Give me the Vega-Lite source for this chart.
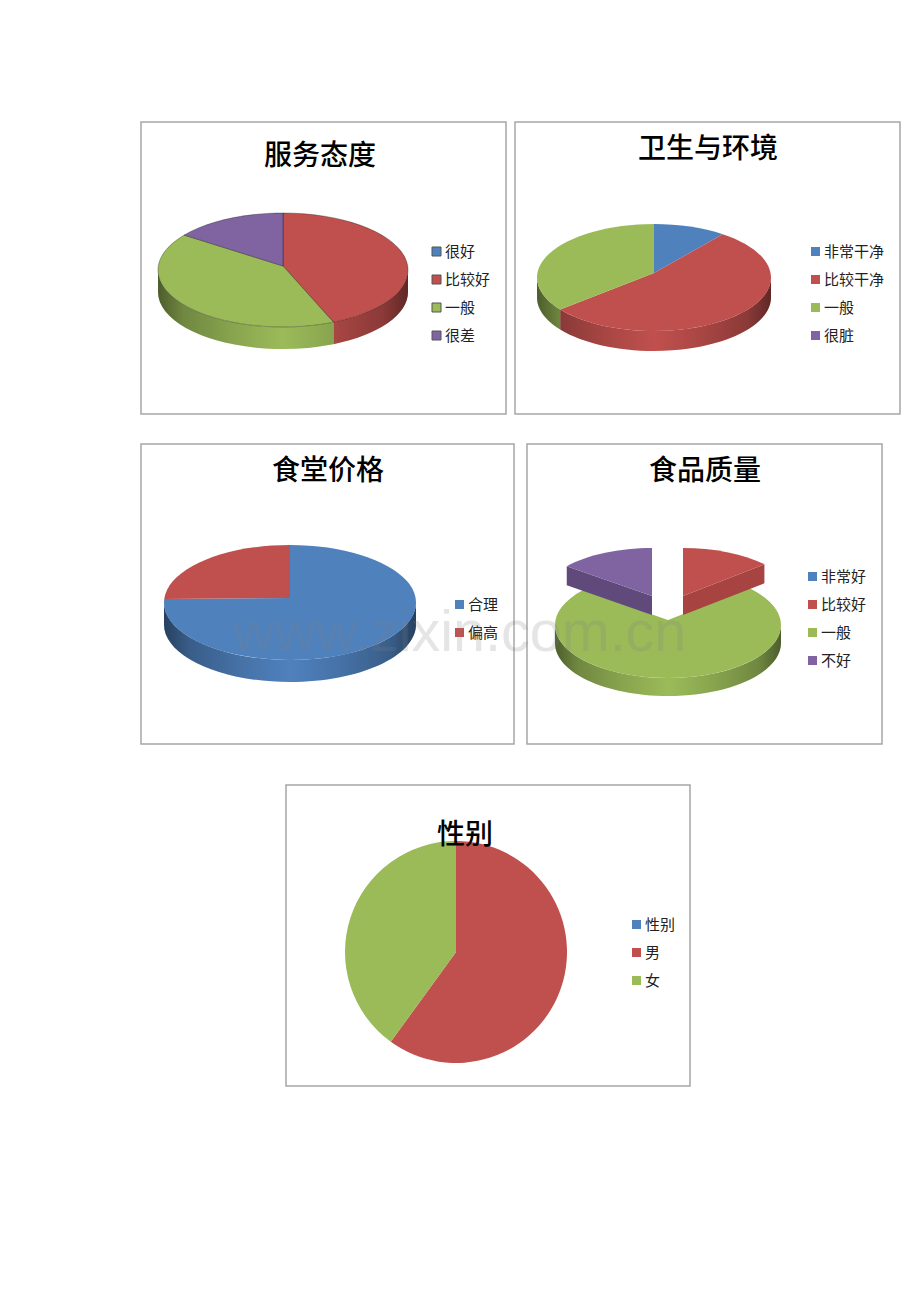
{"$schema":"https://vega.github.io/schema/vega-lite/v6.json","background":"#ffffff","padding":{"left":140,"top":121,"right":19,"bottom":215},"config":{"title":{"offset":0,"font":"Noto Sans CJK SC","fontSize":28,"fontWeight":500,"color":"#000000","anchor":"middle","baseline":"middle"},"legend":{"labelFont":"Noto Sans CJK SC","labelFontSize":15,"labelColor":"#222222","symbolType":"square","symbolSize":81,"labelOffset":1,"rowPadding":12,"symbolStrokeWidth":0}},"resolve":{"scale":{"color":"independent"}},"vconcat":[{"spacing":28,"resolve":{"scale":{"color":"independent"}},"vconcat":[{"spacing":9,"bounds":"flush","resolve":{"scale":{"color":"independent"}},"hconcat":[
{"width":365,"height":292,"view":{"stroke":"#a6a6a6","strokeWidth":1.5},"title":{"text":"服务态度","dx":-3.5,"dy":53},"data":{"values":[{"item":"很好","value":0},{"item":"比较好","value":43.4},{"item":"一般","value":42.1},{"item":"很差","value":14.5}]},"transform":[{"stack":"value","offset":"normalize","groupby":[],"as":["v0","v1"]},{"filter":"datum.value>0"}],"encoding":{"color":{"field":"item","type":"nominal","scale":{"domain":["很好","比较好","一般","很差"],"range":["#4f81bd","#c0504d","#9bbb59","#8064a2"]},"legend":{"title":null,"orient":"none","legendX":288,"legendY":122,"symbolStrokeColor":"#555555","symbolStrokeWidth":1}}},"layer":[
{"transform":[{"filter":"datum.v1>0.25 && datum.v0<0.75"}],"mark":{"type":"point","filled":true,"opacity":1,"size":4,"xOffset":-40.5,"yOffset":-2},"encoding":{"shape":{"value":{"expr":"'M'+(125*sin(max(2*PI*datum.v0,PI/2)))+','+(4-57*cos(max(2*PI*datum.v0,PI/2)))+'A125,57 0 0 1 '+(125*sin(min(2*PI*datum.v1,3*PI/2)))+','+(4-57*cos(min(2*PI*datum.v1,3*PI/2)))+'L'+(125*sin(min(2*PI*datum.v1,3*PI/2)))+','+(26-57*cos(min(2*PI*datum.v1,3*PI/2)))+'A125,57 0 0 0 '+(125*sin(max(2*PI*datum.v0,PI/2)))+','+(26-57*cos(max(2*PI*datum.v0,PI/2)))+'Z'"}}}},
{"transform":[{"filter":{"field":"item","equal":"很差"}}],"mark":{"type":"point","filled":true,"opacity":1,"size":4,"xOffset":-40.5,"yOffset":-2,"fill":{"gradient":"linear","x1":0,"y1":0,"x2":1,"y2":0,"stops":[{"offset":0,"color":"rgba(0,0,0,0.5)"},{"offset":0.1,"color":"rgba(0,0,0,0.28)"},{"offset":0.3,"color":"rgba(0,0,0,0.12)"},{"offset":0.5,"color":"rgba(0,0,0,0)"},{"offset":0.7,"color":"rgba(0,0,0,0.12)"},{"offset":0.9,"color":"rgba(0,0,0,0.28)"},{"offset":1,"color":"rgba(0,0,0,0.5)"}]}},"encoding":{"color":null,"shape":{"value":"M-125,4A125,57 0 0 0 125,4L125,26A125,57 0 0 1 -125,26Z"}}},
{"mark":{"type":"point","filled":true,"opacity":1,"size":4,"xOffset":-40.5,"yOffset":-2,"stroke":"#000000","strokeOpacity":0.3,"strokeWidth":1},"encoding":{"shape":{"value":{"expr":"'M0,0L'+(125*sin(2*PI*datum.v0))+','+(4-57*cos(2*PI*datum.v0))+'A125,57 0 '+(datum.v1-datum.v0>0.5?1:0)+' 1 '+(125*sin(2*PI*datum.v1))+','+(4-57*cos(2*PI*datum.v1))+'Z'"}}}}
]},
{"width":385,"height":292,"view":{"stroke":"#a6a6a6","strokeWidth":1.5},"title":{"text":"卫生与环境","dx":0.5,"dy":46},"data":{"values":[{"item":"非常干净","value":10},{"item":"比较干净","value":54.8},{"item":"一般","value":35.2},{"item":"很脏","value":0}]},"transform":[{"stack":"value","offset":"normalize","groupby":[],"as":["v0","v1"]},{"filter":"datum.value>0"}],"encoding":{"color":{"field":"item","type":"nominal","scale":{"domain":["非常干净","比较干净","一般","很脏"],"range":["#4f81bd","#c0504d","#9bbb59","#8064a2"]},"legend":{"title":null,"orient":"none","legendX":293,"legendY":122}}},"layer":[
{"transform":[{"filter":"datum.v1>0.25 && datum.v0<0.75"}],"mark":{"type":"point","filled":true,"opacity":1,"size":4,"xOffset":-53.5,"yOffset":5},"encoding":{"shape":{"value":{"expr":"'M'+(117*sin(max(2*PI*datum.v0,PI/2)))+','+(4.5-53.5*cos(max(2*PI*datum.v0,PI/2)))+'A117,53.5 0 0 1 '+(117*sin(min(2*PI*datum.v1,3*PI/2)))+','+(4.5-53.5*cos(min(2*PI*datum.v1,3*PI/2)))+'L'+(117*sin(min(2*PI*datum.v1,3*PI/2)))+','+(24.5-53.5*cos(min(2*PI*datum.v1,3*PI/2)))+'A117,53.5 0 0 0 '+(117*sin(max(2*PI*datum.v0,PI/2)))+','+(24.5-53.5*cos(max(2*PI*datum.v0,PI/2)))+'Z'"}}}},
{"transform":[{"filter":{"field":"item","equal":"一般"}}],"mark":{"type":"point","filled":true,"opacity":1,"size":4,"xOffset":-53.5,"yOffset":5,"fill":{"gradient":"linear","x1":0,"y1":0,"x2":1,"y2":0,"stops":[{"offset":0,"color":"rgba(0,0,0,0.5)"},{"offset":0.1,"color":"rgba(0,0,0,0.28)"},{"offset":0.3,"color":"rgba(0,0,0,0.12)"},{"offset":0.5,"color":"rgba(0,0,0,0)"},{"offset":0.7,"color":"rgba(0,0,0,0.12)"},{"offset":0.9,"color":"rgba(0,0,0,0.28)"},{"offset":1,"color":"rgba(0,0,0,0.5)"}]}},"encoding":{"color":null,"shape":{"value":"M-117,4.5A117,53.5 0 0 0 117,4.5L117,24.5A117,53.5 0 0 1 -117,24.5Z"}}},
{"mark":{"type":"point","filled":true,"opacity":1,"size":4,"xOffset":-53.5,"yOffset":5},"encoding":{"shape":{"value":{"expr":"'M0,0L'+(117*sin(2*PI*datum.v0))+','+(4.5-53.5*cos(2*PI*datum.v0))+'A117,53.5 0 '+(datum.v1-datum.v0>0.5?1:0)+' 1 '+(117*sin(2*PI*datum.v1))+','+(4.5-53.5*cos(2*PI*datum.v1))+'Z'"}}}}
]}
]},{"spacing":13,"bounds":"flush","resolve":{"scale":{"color":"independent"}},"hconcat":[
{"width":373,"height":300,"view":{"stroke":"#a6a6a6","strokeWidth":1.5},"title":{"text":"食堂价格","dx":0.5,"dy":46},"data":{"values":[{"item":"合理","value":76},{"item":"偏高","value":24}]},"transform":[{"stack":"value","offset":"normalize","groupby":[],"as":["v0","v1"]},{"filter":"datum.value>0"}],"encoding":{"color":{"field":"item","type":"nominal","scale":{"domain":["合理","偏高"],"range":["#4f81bd","#c0504d"]},"legend":{"title":null,"orient":"none","legendX":311,"legendY":153}}},"layer":[
{"transform":[{"filter":"datum.v1>0.25 && datum.v0<0.75"}],"mark":{"type":"point","filled":true,"opacity":1,"size":4,"xOffset":-37.5,"yOffset":4},"encoding":{"shape":{"value":{"expr":"'M'+(126*sin(max(2*PI*datum.v0,PI/2)))+','+(4.5-57.5*cos(max(2*PI*datum.v0,PI/2)))+'A126,57.5 0 0 1 '+(126*sin(min(2*PI*datum.v1,3*PI/2)))+','+(4.5-57.5*cos(min(2*PI*datum.v1,3*PI/2)))+'L'+(126*sin(min(2*PI*datum.v1,3*PI/2)))+','+(26.5-57.5*cos(min(2*PI*datum.v1,3*PI/2)))+'A126,57.5 0 0 0 '+(126*sin(max(2*PI*datum.v0,PI/2)))+','+(26.5-57.5*cos(max(2*PI*datum.v0,PI/2)))+'Z'"}}}},
{"transform":[{"filter":{"field":"item","equal":"偏高"}}],"mark":{"type":"point","filled":true,"opacity":1,"size":4,"xOffset":-37.5,"yOffset":4,"fill":{"gradient":"linear","x1":0,"y1":0,"x2":1,"y2":0,"stops":[{"offset":0,"color":"rgba(0,0,0,0.5)"},{"offset":0.1,"color":"rgba(0,0,0,0.28)"},{"offset":0.3,"color":"rgba(0,0,0,0.12)"},{"offset":0.5,"color":"rgba(0,0,0,0)"},{"offset":0.7,"color":"rgba(0,0,0,0.12)"},{"offset":0.9,"color":"rgba(0,0,0,0.28)"},{"offset":1,"color":"rgba(0,0,0,0.5)"}]}},"encoding":{"color":null,"shape":{"value":"M-126,4.5A126,57.5 0 0 0 126,4.5L126,26.5A126,57.5 0 0 1 -126,26.5Z"}}},
{"mark":{"type":"point","filled":true,"opacity":1,"size":4,"xOffset":-37.5,"yOffset":4},"encoding":{"shape":{"value":{"expr":"'M0,0L'+(126*sin(2*PI*datum.v0))+','+(4.5-57.5*cos(2*PI*datum.v0))+'A126,57.5 0 '+(datum.v1-datum.v0>0.5?1:0)+' 1 '+(126*sin(2*PI*datum.v1))+','+(4.5-57.5*cos(2*PI*datum.v1))+'Z'"}}}}
]},
{"width":355,"height":300,"view":{"stroke":"#a6a6a6","strokeWidth":1.5},"title":{"text":"食品质量","dx":0.5,"dy":46},"data":{"values":[{"item":"非常好","value":0},{"item":"比较好","value":12.8},{"item":"一般","value":73.6},{"item":"不好","value":13.6}]},"transform":[{"stack":"value","offset":"normalize","groupby":[],"as":["v0","v1"]},{"filter":"datum.value>0"}],"encoding":{"color":{"field":"item","type":"nominal","scale":{"domain":["非常好","比较好","一般","不好"],"range":["#4f81bd","#c0504d","#9bbb59","#8064a2"]},"legend":{"title":null,"orient":"none","legendX":278,"legendY":125}}},"layer":[
{"transform":[{"filter":{"field":"item","equal":"一般"}}],"mark":{"type":"point","filled":true,"opacity":1,"size":4,"xOffset":-36.5,"yOffset":26},"encoding":{"shape":{"value":{"expr":"'M'+(113*sin(max(2*PI*datum.v0,PI/2)))+','+(5-53*cos(max(2*PI*datum.v0,PI/2)))+'A113,53 0 0 1 '+(113*sin(min(2*PI*datum.v1,3*PI/2)))+','+(5-53*cos(min(2*PI*datum.v1,3*PI/2)))+'L'+(113*sin(min(2*PI*datum.v1,3*PI/2)))+','+(23-53*cos(min(2*PI*datum.v1,3*PI/2)))+'A113,53 0 0 0 '+(113*sin(max(2*PI*datum.v0,PI/2)))+','+(23-53*cos(max(2*PI*datum.v0,PI/2)))+'Z'"}}}},
{"transform":[{"filter":{"field":"item","equal":"一般"}}],"mark":{"type":"point","filled":true,"opacity":1,"size":4,"xOffset":-36.5,"yOffset":26,"fill":{"gradient":"linear","x1":0,"y1":0,"x2":1,"y2":0,"stops":[{"offset":0,"color":"rgba(0,0,0,0.5)"},{"offset":0.1,"color":"rgba(0,0,0,0.28)"},{"offset":0.3,"color":"rgba(0,0,0,0.12)"},{"offset":0.5,"color":"rgba(0,0,0,0)"},{"offset":0.7,"color":"rgba(0,0,0,0.12)"},{"offset":0.9,"color":"rgba(0,0,0,0.28)"},{"offset":1,"color":"rgba(0,0,0,0.5)"}]}},"encoding":{"color":null,"shape":{"value":"M-113,5A113,53 0 0 0 113,5L113,23A113,53 0 0 1 -113,23Z"}}},
{"transform":[{"filter":{"field":"item","equal":"一般"}}],"mark":{"type":"point","filled":true,"opacity":1,"size":4,"xOffset":-36.5,"yOffset":26},"encoding":{"shape":{"value":{"expr":"'M0,0L'+(113*sin(2*PI*datum.v0))+','+(5-53*cos(2*PI*datum.v0))+'A113,53 0 '+(datum.v1-datum.v0>0.5?1:0)+' 1 '+(113*sin(2*PI*datum.v1))+','+(5-53*cos(2*PI*datum.v1))+'Z'"}}}},
{"transform":[{"filter":{"field":"item","equal":"比较好"}}],"mark":{"type":"point","filled":true,"opacity":1,"size":4,"xOffset":-21.5,"yOffset":2,"fill":"#a74340"},"encoding":{"color":null,"shape":{"value":{"expr":"'M0,0L'+(113*sin(2*PI*datum.v1))+','+(5-53*cos(2*PI*datum.v1))+'l0,19L0,19Z'"}}}},
{"transform":[{"filter":{"field":"item","equal":"比较好"}}],"mark":{"type":"point","filled":true,"opacity":1,"size":4,"xOffset":-21.5,"yOffset":2},"encoding":{"shape":{"value":{"expr":"'M0,0L'+(113*sin(2*PI*datum.v0))+','+(5-53*cos(2*PI*datum.v0))+'A113,53 0 0 1 '+(113*sin(2*PI*datum.v1))+','+(5-53*cos(2*PI*datum.v1))+'Z'"}}}},
{"transform":[{"filter":{"field":"item","equal":"不好"}}],"mark":{"type":"point","filled":true,"opacity":1,"size":4,"xOffset":-52.5,"yOffset":2,"fill":"#604a7b"},"encoding":{"color":null,"shape":{"value":{"expr":"'M0,0L'+(113*sin(2*PI*datum.v0))+','+(5-53*cos(2*PI*datum.v0))+'l0,19L0,19Z'"}}}},
{"transform":[{"filter":{"field":"item","equal":"不好"}}],"mark":{"type":"point","filled":true,"opacity":1,"size":4,"xOffset":-52.5,"yOffset":2},"encoding":{"shape":{"value":{"expr":"'M0,0L'+(113*sin(2*PI*datum.v0))+','+(5-53*cos(2*PI*datum.v0))+'A113,53 0 0 1 '+(113*sin(2*PI*datum.v1))+','+(5-53*cos(2*PI*datum.v1))+'Z'"}}}},
{"data":{"values":[{"watermark":"www.zixin.com.cn"}]},"transform":[],"mark":{"type":"text","font":"Liberation Sans","fontSize":57.5,"color":"#808080","opacity":0.2,"dx":-245,"dy":40,"align":"center","baseline":"middle"},"encoding":{"color":null,"text":{"field":"watermark"}}}
]}
]}]},{"spacing":0,"bounds":"flush","resolve":{"scale":{"color":"independent"}},"hconcat":[
{"width":145,"height":1,"view":{"stroke":null},"data":{"values":[{"spacer":1}]},"mark":{"type":"point","opacity":0},"encoding":{}},
{"width":404,"height":301,"view":{"stroke":"#a6a6a6","strokeWidth":1.5},"title":{"text":"性别","dx":-23,"dy":69},"data":{"values":[{"item":"性别","value":0,"rank":1},{"item":"男","value":60,"rank":2},{"item":"女","value":40,"rank":3}]},"mark":{"type":"arc","radius":111,"xOffset":-32,"yOffset":16.5},"encoding":{"theta":{"field":"value","type":"quantitative","stack":true},"order":{"field":"rank"},"color":{"field":"item","type":"nominal","scale":{"domain":["性别","男","女"],"range":["#4f81bd","#c0504d","#9bbb59"]},"legend":{"title":null,"orient":"none","legendX":343,"legendY":132}}}}
]}],"spacing":37}
